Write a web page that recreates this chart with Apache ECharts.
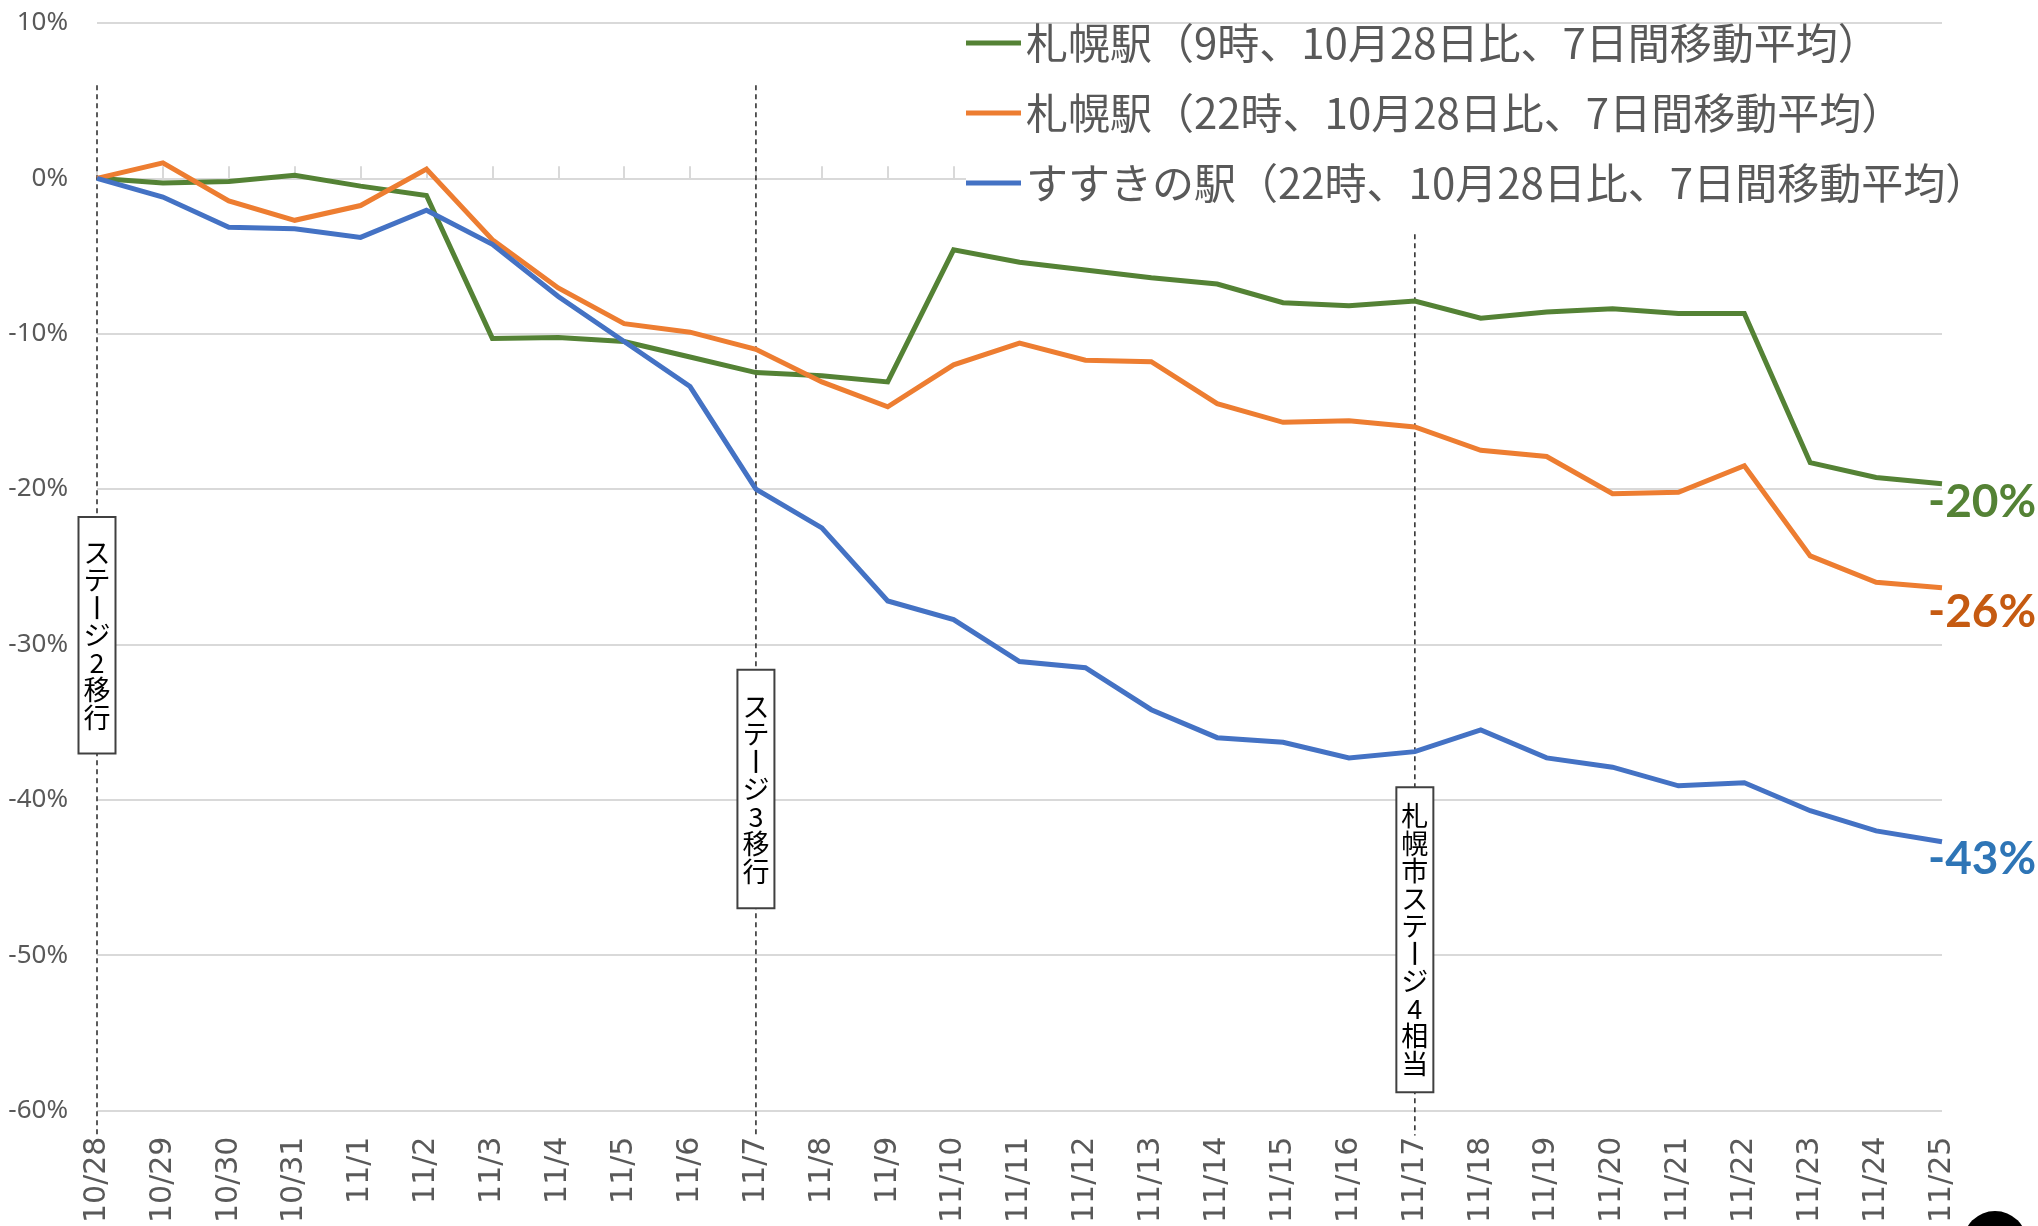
<!DOCTYPE html>
<html>
<head>
<meta charset="utf-8">
<script src="https://cdn.jsdelivr.net/npm/echarts@6/dist/echarts.min.js"></script>
<style>
html,body{margin:0;padding:0;background:#fff;}
#chart{width:2038px;height:1226px;}
</style>
</head>
<body>
<div id="chart"></div>
<script>
const categories = ['10/28','10/29','10/30','10/31','11/1','11/2','11/3','11/4','11/5','11/6','11/7','11/8','11/9','11/10','11/11','11/12','11/13','11/14','11/15','11/16','11/17','11/18','11/19','11/20','11/21','11/22','11/23','11/24','11/25'];
const seriesNames = ['札幌駅（9時、10月28日比、7日間移動平均）','札幌駅（22時、10月28日比、7日間移動平均）','すすきの駅（22時、10月28日比、7日間移動平均）'];
const sapporo9 = [0,-0.3,-0.2,0.2,-0.5,-1.1,-10.3,-10.25,-10.5,-11.5,-12.5,-12.7,-13.1,-4.6,-5.4,-5.9,-6.4,-6.8,-8.0,-8.2,-7.9,-9.0,-8.6,-8.4,-8.7,-8.7,-18.3,-19.25,-19.65];
const sapporo22 = [0,1.0,-1.45,-2.7,-1.75,0.6,-3.95,-7.05,-9.35,-9.9,-11.0,-13.1,-14.7,-12.0,-10.6,-11.7,-11.8,-14.5,-15.7,-15.6,-16.0,-17.5,-17.9,-20.3,-20.2,-18.5,-24.3,-26.0,-26.35];
const susukino22 = [0,-1.2,-3.15,-3.25,-3.8,-2.05,-4.25,-7.6,-10.5,-13.4,-20.0,-22.5,-27.2,-28.4,-31.1,-31.5,-34.2,-36.0,-36.3,-37.3,-36.9,-35.5,-37.3,-37.9,-39.1,-38.9,-40.7,-42.0,-42.7];
const yTicks = {min: -60, max: 10, interval: 10};
const annoDates = ['10/28','11/7','11/17'];
const annoTexts = ['ステージ2移行','ステージ3移行','札幌市ステージ4相当'];
const annoCenters = [-29.4, -39.3, -49.0];
const annoLineTop = [6, 6, -3.6];
const annoLineBottom = -61.6;

const lineColors = ['#548235','#ED7D31','#4472C4'];
const labelColors = ['#548235','#C55A11','#2E75B6'];
const labelOffsets = [[-14,19],[-14,24],[-14,17]];
const boxPadding = [[21,4],[22,4],[14,4]];
const values = [sapporo9, sapporo22, susukino22];

const chart = echarts.init(document.getElementById('chart'), null, {renderer:'canvas'});

const dataSeries = values.map((v, i) => ({
  name: seriesNames[i],
  type: 'line',
  xAxisIndex: 0,
  yAxisIndex: 0,
  data: v,
  symbol: 'none',
  z: 3,
  lineStyle: {width: 5, color: lineColors[i], join: 'miter'},
  itemStyle: {color: lineColors[i]},
  endLabel: {
    show: true,
    formatter: p => Math.round(p.value) + '%',
    color: labelColors[i],
    fontSize: 46,
    fontWeight: 'bold',
    fontFamily: 'Lato, "Noto Sans", sans-serif',
    offset: labelOffsets[i],
    distance: 0
  }
}));

// dashed vertical guide lines, drawn through the axes' own scales
const guideSeries = annoDates.map((d, i) => ({
  name: 'guide' + i,
  type: 'line',
  data: [[d, annoLineTop[i]], [d, annoLineBottom]],
  symbol: 'none',
  clip: false,
  silent: true,
  z: 1,
  lineStyle: {type: [5,4], color: '#262626', width: 1.5}
}));

const vText = t => t.split('').map(c => c === 'ー' ? '{v|ー}' : c).join('\n');

const annoSeries = {
  name: 'annotations',
  type: 'line',
  data: [],
  clip: false,
  z: 4,
  silent: true,
  markPoint: {
    symbol: 'rect',
    symbolSize: 1,
    silent: true,
    animation: false,
    itemStyle: {color: 'rgba(0,0,0,0)'},
    label: {
      show: true,
      position: 'inside',
      color: '#000',
      fontSize: 27,
      lineHeight: 27.5,
      align: 'center',
      fontFamily: '"Noto Sans CJK JP", sans-serif',
      backgroundColor: '#fff',
      borderColor: '#404040',
      borderWidth: 2,
      rich: {
        v: {width: 2.5, height: 23, lineHeight: 27.5, backgroundColor: '#000', color: 'rgba(0,0,0,0)', fontSize: 27}
      }
    },
    data: annoDates.map((d, i) => ({
      coord: [d, annoCenters[i]],
      label: {formatter: vText(annoTexts[i]), padding: boxPadding[i]}
    }))
  }
};

const option = {
  animation: false,
  backgroundColor: '#fff',
  grid: {left: 97, top: 23, width: 1845, height: 1089, containLabel: false},
  legend: {
    data: seriesNames,
    orient: 'vertical',
    left: 966,
    top: 28,
    align: 'left',
    icon: 'rect',
    itemWidth: 55,
    itemHeight: 5,
    itemGap: 28,
    padding: [-6, 0, 0, 0],
    backgroundColor: '#fff',
    textStyle: {fontSize: 42, lineHeight: 40, color: '#595959', fontFamily: '"Noto Sans CJK JP", sans-serif'}
  },
  xAxis: [
    {
      type: 'category',
      data: categories,
      boundaryGap: false,
      axisLine: {show: true, onZero: true, lineStyle: {color: '#d9d9d9', width: 2}},
      axisTick: {show: true, inside: true, length: 12, interval: 0, lineStyle: {color: '#d9d9d9', width: 2}},
      axisLabel: {show: false},
      splitLine: {show: false}
    },
    {
      type: 'category',
      data: categories,
      position: 'bottom',
      boundaryGap: false,
      axisLine: {show: false, onZero: false},
      axisTick: {show: false},
      axisLabel: {show: true, rotate: 90, interval: 0, margin: 26, fontSize: 30, color: '#595959', fontFamily: '"DejaVu Sans", sans-serif'},
      splitLine: {show: false}
    }
  ],
  yAxis: {
    type: 'value',
    min: yTicks.min,
    max: yTicks.max,
    interval: yTicks.interval,
    axisLine: {show: false},
    axisTick: {show: false},
    axisLabel: {formatter: '{value}%', fontSize: 26, color: '#595959', margin: 29, fontFamily: '"Noto Sans", sans-serif'},
    splitLine: {show: true, lineStyle: {color: '#d9d9d9', width: 2}}
  },
  series: guideSeries.concat([annoSeries]).concat(dataSeries),
  graphic: [{
    type: 'circle',
    shape: {cx: 1995, cy: 1243, r: 32},
    style: {fill: '#000'},
    silent: true
  }]
};
chart.setOption(option);
</script>
</body>
</html>
